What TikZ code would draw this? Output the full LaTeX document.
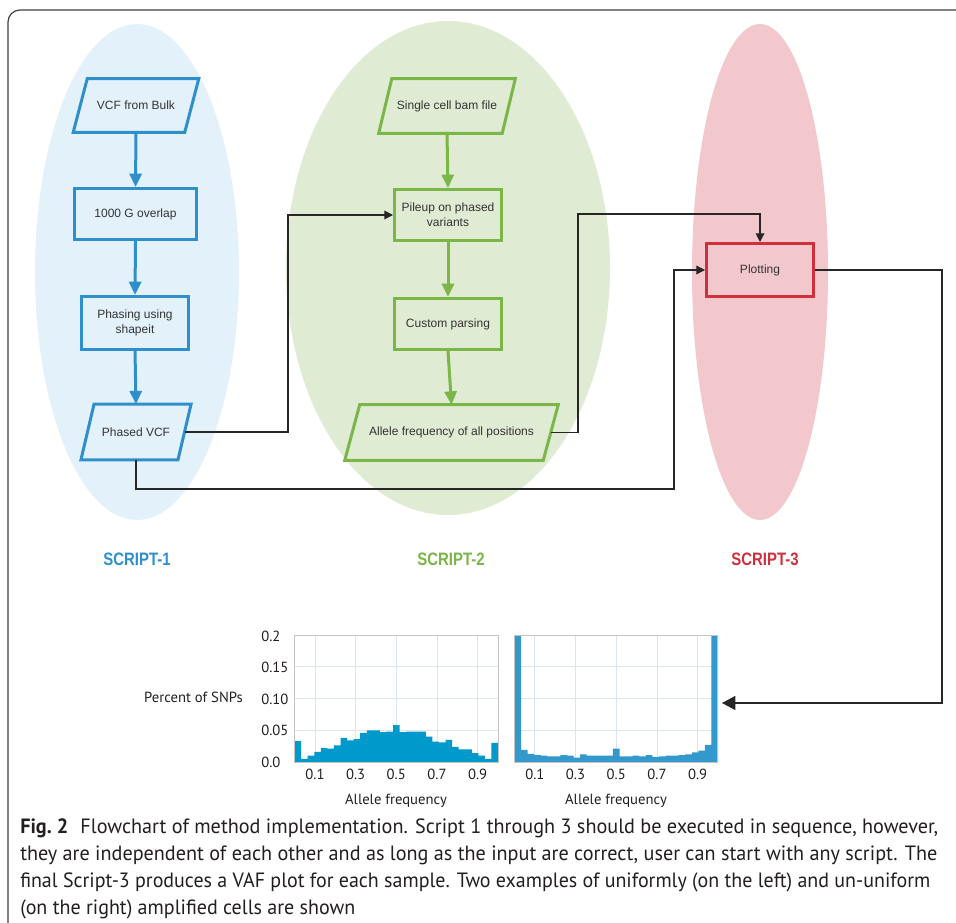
\documentclass[tikz,border=0pt]{standalone}
\usepackage{fontspec}
\setmainfont{Liberation Sans}
\newfontfamily\ptsans{PT Sans}
\usetikzlibrary{arrows.meta,calc}
\definecolor{sblue}{HTML}{2E8FCA}
\definecolor{sgreen}{HTML}{7AB648}
\definecolor{sred}{HTML}{D0303C}
\definecolor{eblue}{HTML}{E3F1FA}
\definecolor{egreen}{HTML}{DFEBD2}
\definecolor{ered}{HTML}{F2C8CD}
\definecolor{txtc}{HTML}{333333}
\definecolor{capc}{HTML}{231F20}
\definecolor{barA}{HTML}{0099CC}
\definecolor{barB}{HTML}{3399CC}
\definecolor{gridc}{HTML}{D8E6F2}
\definecolor{framec}{HTML}{C4C4C4}
\newcommand{\drawpara}[3]{\draw[#2] ([xshift=-#3]#1.south west) -- ([xshift=-#3]#1.south east) -- ([xshift=#3]#1.north east) -- ([xshift=#3]#1.north west) -- cycle;}
\begin{document}
\begin{tikzpicture}[x=0.75pt,y=-0.75pt,
  boxtxt/.style={font=\fontsize{9}{11}\selectfont, text=txtc, align=center, inner sep=0pt},
  bbox/.style={boxtxt, draw=sblue, line width=2.25pt},
  gbox/.style={boxtxt, draw=sgreen, line width=2.25pt},
  rbox/.style={boxtxt, draw=sred, line width=2.25pt},
  ptxt/.style={boxtxt, draw=none},
  bline/.style={draw=sblue, line width=2.25pt},
  gline/.style={draw=sgreen, line width=2.25pt},
  barrowB/.style={draw=sblue, line width=2.25pt, -{Triangle[length=10pt,width=9pt]}},
  barrowG/.style={draw=sgreen, line width=2.25pt, -{Triangle[length=10pt,width=9pt]}},
  conn/.style={draw=black!85, line width=0.9pt, -{Triangle[length=6.5pt,width=6.5pt]}},
  scriptlbl/.style={font=\bfseries\fontsize{13.5}{15}\selectfont, inner sep=0pt},
  ticklbl/.style={font=\ptsans\fontsize{11}{12}\selectfont, text=capc, inner sep=0pt},
  gridln/.style={draw=gridc, line width=0.6pt},
  pframe/.style={draw=framec, line width=0.75pt, inner sep=0pt, minimum width=203.4*0.75pt, minimum height=127*0.75pt},
  captxt/.style={font=\ptsans\fontsize{15.5}{17}\selectfont, text=capc, inner sep=0pt, anchor=base west}
]
\useasboundingbox[fill=white] (0,0) rectangle (956,923);
% outer frame
\draw[draw=black!75, line width=0.9pt, rounded corners=9pt] (8,923) -- (8,10) -- (956,10);

% ellipses
\fill[eblue] (137,272) ellipse [x radius=102, y radius=248];
\fill[egreen] (448,268) ellipse [x radius=162, y radius=247];
\fill[ered] (760,272) ellipse [x radius=68, y radius=248];

% SCRIPT 1 column
\node[ptxt, minimum width=111*0.75pt, minimum height=53*0.75pt] (n1) at (136,105.5) {VCF from Bulk};
\drawpara{n1}{bline}{5.25pt}
\node[bbox, minimum width=122*0.75pt, minimum height=51*0.75pt] (n2) at (135.5,214) {1000 G overlap};
\node[bbox, minimum width=107*0.75pt, minimum height=53*0.75pt] (n3) at (135,323) {Phasing using\\shapeit};
\node[ptxt, minimum width=96.5*0.75pt, minimum height=55*0.75pt] (n4) at (136,432) {Phased VCF};
\drawpara{n4}{bline}{4.9pt}
\draw[barrowB] (n1.south) -- (n2.north);
\draw[barrowB] (n2.south) -- (n3.north);
\draw[barrowB] (n3.south) -- (n4.north);

% SCRIPT 2 column
\node[ptxt, minimum width=123*0.75pt, minimum height=54*0.75pt] (g1) at (447,106) {Single cell bam file};
\drawpara{g1}{gline}{4.9pt}
\node[gbox, minimum width=107*0.75pt, minimum height=51*0.75pt] (g2) at (448,215) {Pileup on phased\\variants};
\node[gbox, minimum width=107*0.75pt, minimum height=51*0.75pt] (g3) at (448,324) {Custom parsing};
\node[ptxt, minimum width=198*0.75pt, minimum height=55*0.75pt] (g4) at (451.5,432.5) {Allele frequency of all positions};
\drawpara{g4}{gline}{5.6pt}
\draw[barrowG] (g1.south) -- (g2.north);
\draw[barrowG] (g2.south) -- (g3.north);
\draw[barrowG] (g3.south) -- (g4.north);

% SCRIPT 3
\node[rbox, minimum width=107*0.75pt, minimum height=53*0.75pt] (r1) at (760,270) {Plotting};

% labels
\node[scriptlbl, text=sblue] (s1) at (137,559) {\scalebox{0.83}[1]{SCRIPT-1}};
\node[scriptlbl, text=sgreen] (s2) at (451,559) {\scalebox{0.83}[1]{SCRIPT-2}};
\node[scriptlbl, text=sred] (s3) at (765,559) {\scalebox{0.83}[1]{SCRIPT-3}};

% connectors
\coordinate (b1) at (288,432);
\coordinate (b2) at (674,489);
\coordinate (b3) at (578,214);
\coordinate (b4) at (942,703);
\coordinate (tip) at (722,703);
\draw[conn] (n4.east) -- (b1) |- (g2.west);
\draw[conn] (n4.south) |- (b2) |- (r1.west);
\draw[conn] (g4.east) -| (b3) -| (r1.north);
\draw[draw=black!85, line width=0.9pt, -{Triangle[length=10pt,width=10.5pt]}] (r1.east) -| (b4) -- (tip);

% histograms
\foreach \v/\k in {0.1/a,0.3/b,0.5/c,0.7/d,0.9/e} {
  \draw[gridln] ({294.6+\v*203.4},635) -- ({294.6+\v*203.4},762);
  \node[ticklbl, anchor=base] (lt\k) at ({294.6+\v*203.4},779.5) {\v};
  \draw[gridln] ({514.5+\v*203.5},635) -- ({514.5+\v*203.5},762);
  \node[ticklbl, anchor=base] (rt\k) at ({514.5+\v*203.5},779.5) {\v};
}
\foreach \yy in {666.75,698.5,730.25} {
  \draw[gridln] (294.6,\yy) -- (498,\yy);
  \draw[gridln] (514.5,\yy) -- (718,\yy);
}
\fill[barA] (294.6,762) foreach \h [count=\i from 0] in {0.033,0.005,0.010,0.016,0.022,0.021,0.026,0.038,0.034,0.036,0.046,0.050,0.050,0.047,0.048,0.058,0.047,0.048,0.048,0.048,0.040,0.032,0.031,0.035,0.024,0.020,0.020,0.014,0.010,0.005,0.030} { -- ({294.6+\i*6.561},{762-\h*635}) -- ({294.6+(\i+1)*6.561},{762-\h*635}) } -- (498,762) -- cycle;
\fill[barB] (514.5,762) foreach \h [count=\i from 0] in {0.2,0.019,0.013,0.011,0.010,0.009,0.009,0.011,0.010,0.007,0.012,0.010,0.010,0.010,0.010,0.021,0.009,0.009,0.010,0.009,0.011,0.008,0.009,0.010,0.010,0.011,0.012,0.015,0.018,0.027,0.2} { -- ({514.5+\i*6.565},{762-\h*635}) -- ({514.5+(\i+1)*6.565},{762-\h*635}) } -- (718,762) -- cycle;
\node[pframe] (h1) at (396.3,698.5) {};
\node[pframe] (h2) at (616.25,698.5) {};

% y axis labels
\node[ticklbl, anchor=base west] (y1) at (261,641) {0.2};
\node[ticklbl, anchor=base west] (y2) at (261,672) {0.15};
\node[ticklbl, anchor=base west] (y3) at (261,704) {0.10};
\node[ticklbl, anchor=base west] (y4) at (261,735.5) {0.05};
\node[ticklbl, anchor=base west] (y5) at (261,767) {0.0};
\node[ticklbl, anchor=base east] (ylab) at (243,702) {Percent of SNPs};
\node[ticklbl, anchor=base] (xl1) at (396,804) {Allele frequency};
\node[ticklbl, anchor=base] (xl2) at (616,804) {Allele frequency};

% caption
\node[captxt] (c1) at (20,833) {\resizebox{688.5pt}{\height}{\textbf{Fig.~2}\hspace{0.6em}Flowchart of method implementation. Script 1 through 3 should be executed in sequence, however,}};
\node[captxt] (c2) at (20,860) {\resizebox{687.75pt}{\height}{they are independent of each other and as long as the input are correct, user can start with any script. The}};
\node[captxt] (c3) at (20,887) {\resizebox{682.5pt}{\height}{final Script-3 produces a VAF plot for each sample. Two examples of uniformly (on the left) and un-uniform}};
\node[captxt] (c4) at (20,914) {\resizebox{251.25pt}{\height}{(on the right) amplified cells are shown}};
\end{tikzpicture}
\end{document}
